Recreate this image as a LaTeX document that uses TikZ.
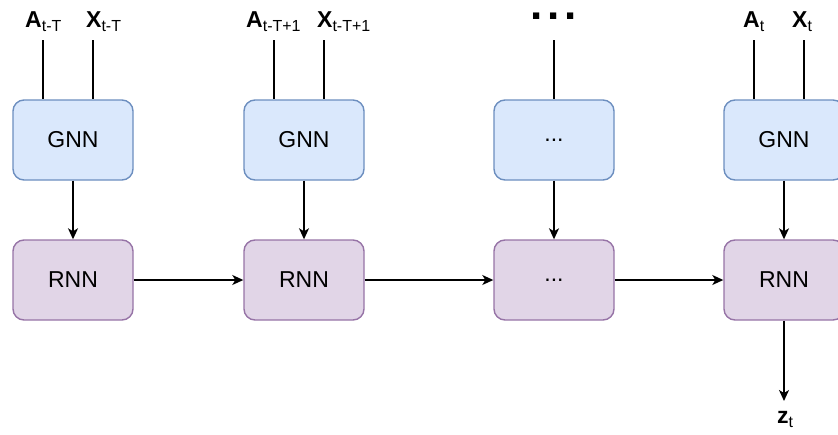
\documentclass[tikz,border=0pt]{standalone}
\usepackage{fontspec}
\setmainfont{Liberation Sans}
\usetikzlibrary{arrows.meta}
\definecolor{gnnfill}{HTML}{DAE8FC}
\definecolor{gnnline}{HTML}{6C8EBF}
\definecolor{rnnfill}{HTML}{E1D5E7}
\definecolor{rnnline}{HTML}{9673A6}
\newcommand{\inp}[2]{{\fontsize{23}{26}\selectfont\bfseries #1}\raisebox{-4.5pt}{\fontsize{16}{18}\selectfont #2}}
\begin{document}
\begin{tikzpicture}[x=1pt,y=-1pt,
  cell/.style={rounded corners=11pt,line width=1.4pt,minimum width=120pt,minimum height=80pt,
    inner sep=0pt,font=\fontsize{23}{27}\selectfont},
  gnn/.style={cell,draw=gnnline,fill=gnnfill},
  rnn/.style={cell,draw=rnnline,fill=rnnfill},
  lbl/.style={anchor=base west,inner sep=0pt},
  feed/.style={line width=1.4pt},
  flow/.style={line width=1.4pt,-{Stealth[length=11pt,width=10pt,inset=3pt]}}]
\useasboundingbox (0,0) rectangle (838,434);

% graph encoders
\node[gnn] (g1) at (73,140) {GNN};
\node[gnn] (g2) at (304,140) {GNN};
\node[gnn] (g3) at (554,140) {...};
\node[gnn] (g4) at (784,140) {GNN};

% recurrent cells
\node[rnn] (r1) at (73,280) {RNN};
\node[rnn] (r2) at (304,280) {RNN};
\node[rnn] (r3) at (554,280) {...};
\node[rnn] (r4) at (784,280) {RNN};

% inputs
\node[lbl] (a1) at (25,27) {\inp{A}{t-T}};
\node[lbl] (x1) at (86,27) {\inp{X}{t-T}};
\node[lbl] (a2) at (246,27) {\inp{A}{t-T+1}};
\node[lbl] (x2) at (317,27) {\inp{X}{t-T+1}};
\node[anchor=base,inner sep=0pt] (d3) at (554,19.5)
  {\smash{\fontsize{44}{44}\selectfont\bfseries .\kern4.8pt.\kern4.8pt.}};
\node[lbl] (a4) at (743,27) {\inp{A}{t}};
\node[lbl] (x4) at (792,27) {\inp{X}{t}};

\coordinate (ta1) at (43,40);
\coordinate (tx1) at (93,40);
\coordinate (ta2) at (274,40);
\coordinate (tx2) at (324,40);
\coordinate (td3) at (554,40);
\coordinate (ta4) at (754,40);
\coordinate (tx4) at (804,40);

\foreach \t in {ta1,tx1,ta2,tx2,td3,ta4,tx4}
  \draw[feed] (\t) -- (\t |- g1.north);

\foreach \i in {1,...,4}
  \draw[flow] (g\i) -- (r\i);

\draw[flow] (r1) -- (r2);
\draw[flow] (r2) -- (r3);
\draw[flow] (r3) -- (r4);

% output
\node[lbl] (z) at (777,423) {\inp{z}{t}};
\coordinate (zt) at (784,401);
\draw[flow] (r4) -- (zt);
\end{tikzpicture}
\end{document}
